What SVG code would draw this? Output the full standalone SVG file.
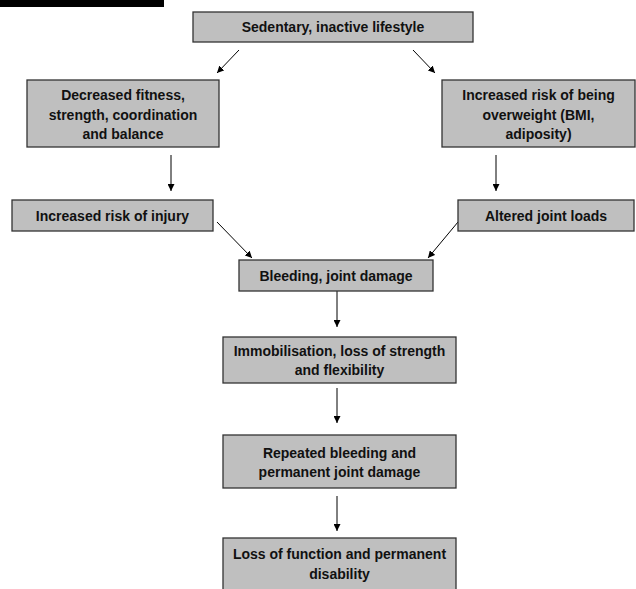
<svg xmlns="http://www.w3.org/2000/svg" width="636" height="589" viewBox="0 0 636 589">
<style>
.box{fill:#bfbfbf;stroke:#333;stroke-width:1.3}
.t{font-family:"Liberation Sans",Arial,sans-serif;font-weight:bold;font-size:14px;fill:#111;text-anchor:middle}
.c{stroke:#000;stroke-width:1;fill:none;marker-end:url(#ah)}
</style>
<defs>
<marker id="ah" viewBox="0 0 10 10" refX="10" refY="5" markerWidth="7" markerHeight="7" markerUnits="userSpaceOnUse" orient="auto">
<path d="M0,0 L10,5 L0,10 z" fill="#000"/>
</marker>
</defs>
<rect x="0" y="0" width="164" height="7" fill="#000"/>
<g id="connectors">
<line class="c" x1="239" y1="50" x2="217" y2="73"/>
<line class="c" x1="413" y1="50" x2="435" y2="73"/>
<line class="c" x1="171" y1="155" x2="171" y2="191"/>
<line class="c" x1="496" y1="155" x2="496" y2="191"/>
<line class="c" x1="217" y1="222" x2="252" y2="258"/>
<line class="c" x1="458" y1="222" x2="428" y2="258"/>
<line class="c" x1="337" y1="291" x2="337" y2="327"/>
<line class="c" x1="337" y1="388" x2="337" y2="423"/>
<line class="c" x1="337" y1="496" x2="337" y2="531"/>
</g>
<g id="sedentary">
<rect class="box" x="193" y="12" width="280" height="30"/>
<text class="t" x="333" y="32">Sedentary, inactive lifestyle</text>
</g>
<g id="decreased">
<rect class="box" x="27" y="80" width="192" height="67"/>
<text class="t" x="123" y="100">Decreased fitness,</text>
<text class="t" x="123" y="119.5">strength, coordination</text>
<text class="t" x="123" y="139">and balance</text>
</g>
<g id="overweight">
<rect class="box" x="442" y="80" width="193" height="67"/>
<text class="t" x="538.5" y="100">Increased risk of being</text>
<text class="t" x="538.5" y="119.5">overweight (BMI,</text>
<text class="t" x="538.5" y="139">adiposity)</text>
</g>
<g id="injury">
<rect class="box" x="12" y="200" width="201" height="31"/>
<text class="t" x="112.5" y="221">Increased risk of injury</text>
</g>
<g id="loads">
<rect class="box" x="458" y="200" width="176" height="31"/>
<text class="t" x="546" y="221">Altered joint loads</text>
</g>
<g id="bleeding">
<rect class="box" x="239" y="260" width="194" height="31"/>
<text class="t" x="336" y="281">Bleeding, joint damage</text>
</g>
<g id="immobilisation">
<rect class="box" x="223" y="337" width="233" height="46"/>
<text class="t" x="339.5" y="356">Immobilisation, loss of strength</text>
<text class="t" x="339.5" y="375">and flexibility</text>
</g>
<g id="repeated">
<rect class="box" x="223" y="435" width="233" height="53"/>
<text class="t" x="339.5" y="458">Repeated bleeding and</text>
<text class="t" x="339.5" y="477">permanent joint damage</text>
</g>
<g id="loss">
<rect class="box" x="223" y="538" width="233" height="60"/>
<text class="t" x="339.5" y="559">Loss of function and permanent</text>
<text class="t" x="339.5" y="579">disability</text>
</g>
</svg>
